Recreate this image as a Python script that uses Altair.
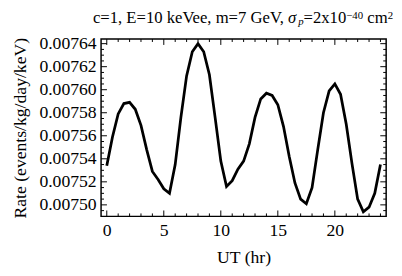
import altair as alt
import pandas as pd

ut_hr = [i * 0.5 for i in range(49)]
rate = [0.007534, 0.007559, 0.007579, 0.007588, 0.007589, 0.007583, 0.007569, 0.007548,
        0.007529, 0.007522, 0.007514, 0.007510, 0.007535, 0.007576, 0.007612, 0.007633,
        0.007640, 0.007633, 0.007613, 0.007576, 0.007538, 0.007516, 0.007521, 0.007531,
        0.007538, 0.007553, 0.007576, 0.007592, 0.007597, 0.007595, 0.007587, 0.007568,
        0.007542, 0.007519, 0.007505, 0.007501, 0.007515, 0.007548, 0.007580, 0.007599,
        0.007605, 0.007596, 0.007570, 0.007536, 0.007505, 0.007494, 0.007498, 0.007510,
        0.007535]

x_major = [0, 5, 10, 15, 20]
x_minor = [v for v in range(0, 25) if v % 5 != 0]
y_major = [0.00750, 0.00752, 0.00754, 0.00756, 0.00758, 0.00760, 0.00762, 0.00764]
y_minor = [0.007495, 0.007505, 0.00751, 0.007515, 0.007525, 0.00753, 0.007535, 0.007545,
           0.00755, 0.007555, 0.007565, 0.00757, 0.007575, 0.007585, 0.00759, 0.007595,
           0.007605, 0.00761, 0.007615, 0.007625, 0.00763, 0.007635]

# title pieces: (text, italic, role, left x in plot px)
title_parts = [
    ("c=1, E=10 keVee, m=7 GeV,", False, "main", -8.3),
    ("σ", True, "main", 190.9),
    ("p", True, "sub", 201.2),
    ("=2x10", False, "main", 206.7),
    ("−40", False, "sup", 250.3),
    ("cm", False, "main", 271.7),
    ("2", False, "sup", 292.5),
]

W, H = 291, 181
FONT = "Liberation Serif"
xdom = [-0.5, 24.5]
ydom = [0.00749, 0.007644]

df = pd.DataFrame({"ut": ut_hr, "rate": rate})

xs = alt.Scale(domain=xdom, nice=False, zero=False)
ys = alt.Scale(domain=ydom, nice=False, zero=False)

xaxis = alt.Axis(values=x_major, ticks=False, tickSize=0, domain=False, grid=False,
                 labelFont=FONT, labelFontSize=18, labelColor="black", labelPadding=6,
                 labelOverlap=False, labelFlush=False, title="UT (hr)",
                 titleFont=FONT, titleFontSize=18, titleFontWeight="normal",
                 titleColor="black", titlePadding=9)
yaxis = alt.Axis(values=y_major, format=".5f", ticks=False, tickSize=0, domain=False,
                 grid=False, labelFont=FONT, labelFontSize=18, labelColor="black",
                 labelOverlap=False, labelFlush=False, title="Rate (events/kg/day/keV)",
                 labelPadding=5, titleFont=FONT, titleFontSize=18,
                 titleFontWeight="normal", titleColor="black", titlePadding=10)

line = alt.Chart(df).mark_line(color="black", strokeWidth=2.8, clip=True).encode(
    x=alt.X("ut:Q", scale=xs, axis=xaxis),
    y=alt.Y("rate:Q", scale=ys, axis=yaxis),
)

def xticks(vals, length):
    d = pd.DataFrame({"v": vals})
    bot = alt.Chart(d).mark_rule(color="black", strokeWidth=1).encode(
        x=alt.X("v:Q", scale=xs, axis=xaxis), y=alt.value(H), y2=alt.value(H - length))
    top = alt.Chart(d).mark_rule(color="black", strokeWidth=1).encode(
        x=alt.X("v:Q", scale=xs, axis=xaxis), y=alt.value(0), y2=alt.value(length))
    return [bot, top]

def yticks(vals, length):
    d = pd.DataFrame({"v": vals})
    left = alt.Chart(d).mark_rule(color="black", strokeWidth=1).encode(
        y=alt.Y("v:Q", scale=ys, axis=yaxis), x=alt.value(0), x2=alt.value(length))
    right = alt.Chart(d).mark_rule(color="black", strokeWidth=1).encode(
        y=alt.Y("v:Q", scale=ys, axis=yaxis), x=alt.value(W), x2=alt.value(W - length))
    return [left, right]

base_y = {"main": -16.5, "sub": -14, "sup": -20.7}
size = {"main": 17, "sub": 11, "sup": 11}
title_layers = []
for txt, ital, role, xpos in title_parts:
    d = pd.DataFrame({"t": [txt]})
    title_layers.append(
        alt.Chart(d).mark_text(font=FONT, fontSize=size[role], fontStyle="italic" if ital else "normal",
                               align="left", baseline="alphabetic", color="black", clip=False).encode(
            text="t:N", x=alt.value(xpos), y=alt.value(base_y[role]))
    )

layers = ([line] + xticks(x_major, 6) + xticks(x_minor, 3) + yticks(y_major, 6)
          + yticks(y_minor, 3) + title_layers)

chart = alt.layer(*layers).properties(
    width=W, height=H,
    background="white",
    autosize=alt.AutoSizeParams(type="none"),
    padding={"left": 95, "top": 29, "right": 8, "bottom": 50},
).configure_view(stroke="black", strokeWidth=1.5)

chart.save("out.html", embed_options={"renderer": "svg", "actions": False})
